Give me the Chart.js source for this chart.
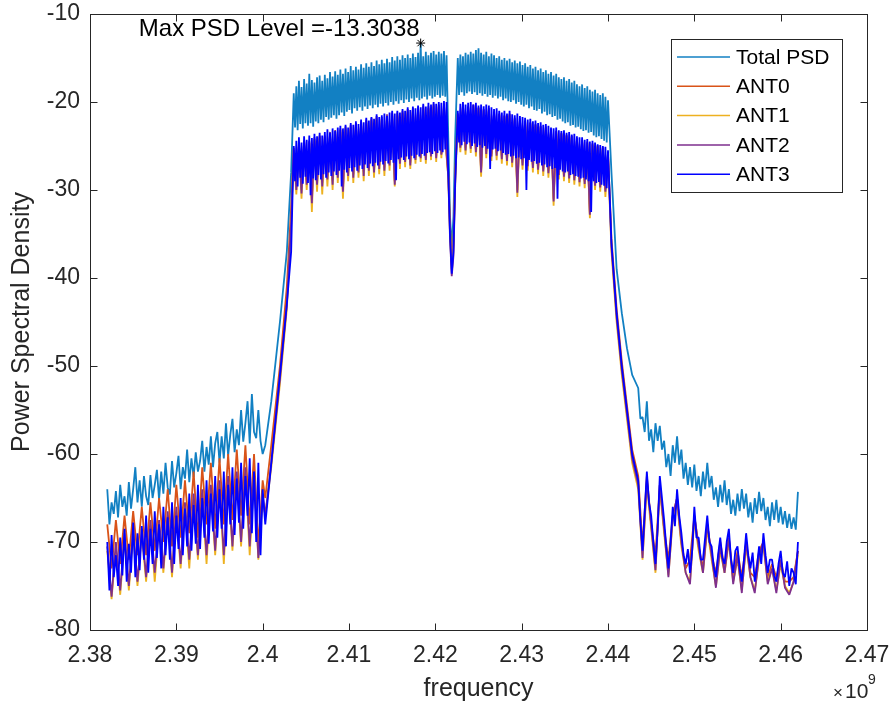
<!DOCTYPE html>
<html>
<head>
<meta charset="utf-8">
<title>Power Spectral Density</title>
<script src="https://cdn.jsdelivr.net/npm/chart.js@4.4.1/dist/chart.umd.min.js"></script>
<style>
    html, body { margin: 0; padding: 0; background: #fff; }
    #psd { display: block; }
</style>
</head>
<body>
<canvas id="psd" width="892" height="708"></canvas>
<script>
(function () {
    "use strict";

    // ---- frequency grids, MHz ----
    // lower skirt, fine grid (Total PSD, ANT3)
    var freqSkirtL = [
        2382, 2382.25, 2382.5, 2382.75, 2383, 2383.25, 2383.5, 2383.75, 2384, 2384.25,
        2384.5, 2384.75, 2385, 2385.25, 2385.5, 2385.75, 2386, 2386.25, 2386.5, 2386.75,
        2387, 2387.25, 2387.5, 2387.75, 2388, 2388.25, 2388.5, 2388.75, 2389, 2389.25,
        2389.5, 2389.75, 2390, 2390.25, 2390.5, 2390.75, 2391, 2391.25, 2391.5, 2391.75,
        2392, 2392.25, 2392.5, 2392.75, 2393, 2393.25, 2393.5, 2393.75, 2394, 2394.25,
        2394.5, 2394.75, 2395, 2395.25, 2395.5, 2395.75, 2396, 2396.25, 2396.5, 2396.75,
        2397, 2397.25, 2397.5, 2397.75, 2398, 2398.25, 2398.5, 2398.75, 2399, 2399.25,
        2399.5, 2399.75, 2400
    ];
    // lower skirt, coarse grid (ANT0..ANT2)
    var freqSkirtLCoarse = [
        2382, 2382.5, 2383, 2383.5, 2384, 2384.5, 2385, 2385.5, 2386, 2386.5, 2387, 2387.5, 2388, 2388.5, 2389, 2389.5, 2390, 2390.5, 2391, 2391.5,
        2392, 2392.5, 2393, 2393.5, 2394, 2394.5, 2395, 2395.5, 2396, 2396.5, 2397, 2397.5, 2398, 2398.5, 2399, 2399.5, 2400
    ];
    var freqRise = [2400.3, 2401, 2402, 2402.8, 2403.3];
    // lower half of the band, fine grid
    var freqBandL = [
        2403.6, 2403.75, 2403.9, 2404.05, 2404.2, 2404.35, 2404.5, 2404.65, 2404.8, 2404.95,
        2405.1, 2405.25, 2405.4, 2405.55, 2405.7, 2405.85, 2406, 2406.15, 2406.3, 2406.45,
        2406.6, 2406.75, 2406.9, 2407.05, 2407.2, 2407.35, 2407.5, 2407.65, 2407.8, 2407.95,
        2408.1, 2408.25, 2408.4, 2408.55, 2408.7, 2408.85, 2409, 2409.15, 2409.3, 2409.45,
        2409.6, 2409.75, 2409.9, 2410.05, 2410.2, 2410.35, 2410.5, 2410.65, 2410.8, 2410.95,
        2411.1, 2411.25, 2411.4, 2411.55, 2411.7, 2411.85, 2412, 2412.15, 2412.3, 2412.45,
        2412.6, 2412.75, 2412.9, 2413.05, 2413.2, 2413.35, 2413.5, 2413.65, 2413.8, 2413.95,
        2414.1, 2414.25, 2414.4, 2414.55, 2414.7, 2414.85, 2415, 2415.15, 2415.3, 2415.45,
        2415.6, 2415.75, 2415.9, 2416.05, 2416.2, 2416.35, 2416.5, 2416.65, 2416.8, 2416.95,
        2417.1, 2417.25, 2417.4, 2417.55, 2417.7, 2417.85, 2418, 2418.15, 2418.3, 2418.45,
        2418.6, 2418.75, 2418.9, 2419.05, 2419.2, 2419.35, 2419.5, 2419.65, 2419.8, 2419.95,
        2420.1, 2420.25, 2420.4, 2420.55, 2420.7, 2420.85, 2421, 2421.15, 2421.3
    ];
    var freqBandLCoarse = [
        2403.6, 2403.9, 2404.2, 2404.5, 2404.8, 2405.1, 2405.4, 2405.7, 2406, 2406.3, 2406.6, 2406.9, 2407.2, 2407.5, 2407.8, 2408.1, 2408.4, 2408.7, 2409, 2409.3, 2409.6, 2409.9, 2410.2, 2410.5, 2410.8, 2411.1, 2411.4, 2411.7, 2412, 2412.3,
        2412.6, 2412.9, 2413.2, 2413.5, 2413.8, 2414.1, 2414.4, 2414.7, 2415, 2415.3, 2415.6, 2415.9, 2416.2, 2416.5, 2416.8, 2417.1, 2417.4, 2417.7, 2418, 2418.3, 2418.6, 2418.9, 2419.2, 2419.5, 2419.8, 2420.1, 2420.4, 2420.7, 2421, 2421.3
    ];
    // DC notch
    var freqNotch = [2421.5, 2421.7, 2421.9, 2422.1, 2422.3];
    // upper half of the band
    var freqBandR = [
        2422.6, 2422.75, 2422.9, 2423.05, 2423.2, 2423.35, 2423.5, 2423.65, 2423.8, 2423.95,
        2424.1, 2424.25, 2424.4, 2424.55, 2424.7, 2424.85, 2425, 2425.15, 2425.3, 2425.45,
        2425.6, 2425.75, 2425.9, 2426.05, 2426.2, 2426.35, 2426.5, 2426.65, 2426.8, 2426.95,
        2427.1, 2427.25, 2427.4, 2427.55, 2427.7, 2427.85, 2428, 2428.15, 2428.3, 2428.45,
        2428.6, 2428.75, 2428.9, 2429.05, 2429.2, 2429.35, 2429.5, 2429.65, 2429.8, 2429.95,
        2430.1, 2430.25, 2430.4, 2430.55, 2430.7, 2430.85, 2431, 2431.15, 2431.3, 2431.45,
        2431.6, 2431.75, 2431.9, 2432.05, 2432.2, 2432.35, 2432.5, 2432.65, 2432.8, 2432.95,
        2433.1, 2433.25, 2433.4, 2433.55, 2433.7, 2433.85, 2434, 2434.15, 2434.3, 2434.45,
        2434.6, 2434.75, 2434.9, 2435.05, 2435.2, 2435.35, 2435.5, 2435.65, 2435.8, 2435.95,
        2436.1, 2436.25, 2436.4, 2436.55, 2436.7, 2436.85, 2437, 2437.15, 2437.3, 2437.45,
        2437.6, 2437.75, 2437.9, 2438.05, 2438.2, 2438.35, 2438.5, 2438.65, 2438.8, 2438.95,
        2439.1, 2439.25, 2439.4, 2439.55, 2439.7, 2439.85, 2440
    ];
    var freqBandRCoarse = [
        2422.6, 2422.9, 2423.2, 2423.5, 2423.8, 2424.1, 2424.4, 2424.7, 2425, 2425.3, 2425.6, 2425.9, 2426.2, 2426.5, 2426.8, 2427.1, 2427.4, 2427.7, 2428, 2428.3, 2428.6, 2428.9, 2429.2, 2429.5, 2429.8, 2430.1, 2430.4, 2430.7, 2431, 2431.3,
        2431.6, 2431.9, 2432.2, 2432.5, 2432.8, 2433.1, 2433.4, 2433.7, 2434, 2434.3, 2434.6, 2434.9, 2435.2, 2435.5, 2435.8, 2436.1, 2436.4, 2436.7, 2437, 2437.3, 2437.6, 2437.9, 2438.2, 2438.5, 2438.8, 2439.1, 2439.4, 2439.7, 2440
    ];
    var freqFall = [2440.4, 2441, 2441.6, 2442.2, 2442.8];
    // upper skirt
    var freqSkirtR = [
        2443.5, 2443.75, 2444, 2444.25, 2444.5, 2444.75, 2445, 2445.25, 2445.5, 2445.75,
        2446, 2446.25, 2446.5, 2446.75, 2447, 2447.25, 2447.5, 2447.75, 2448, 2448.25,
        2448.5, 2448.75, 2449, 2449.25, 2449.5, 2449.75, 2450, 2450.25, 2450.5, 2450.75,
        2451, 2451.25, 2451.5, 2451.75, 2452, 2452.25, 2452.5, 2452.75, 2453, 2453.25,
        2453.5, 2453.75, 2454, 2454.25, 2454.5, 2454.75, 2455, 2455.25, 2455.5, 2455.75,
        2456, 2456.25, 2456.5, 2456.75, 2457, 2457.25, 2457.5, 2457.75, 2458, 2458.25,
        2458.5, 2458.75, 2459, 2459.25, 2459.5, 2459.75, 2460, 2460.25, 2460.5, 2460.75,
        2461, 2461.25, 2461.5, 2461.75, 2462
    ];
    var freqSkirtRCoarse = [
        2443.5, 2444, 2444.5, 2445, 2445.5, 2446, 2446.5, 2447, 2447.5, 2448, 2448.5, 2449, 2449.5, 2450, 2450.5, 2451, 2451.5, 2452, 2452.5,
        2453, 2453.5, 2454, 2454.5, 2455, 2455.5, 2456, 2456.5, 2457, 2457.5, 2458, 2458.5, 2459, 2459.5, 2460, 2460.5, 2461, 2461.5, 2462
    ];

    // ---- PSD values, dB ----
    // Total PSD (fine grid): skirtL | rise | bandL | notch | bandR | fall | skirtR
    var totalPsd = [
        -64.0, -68.0, -65.5, -66.8, -64.2, -67.2, -63.5, -66.0, -64.8, -67.0,
        -63.2, -66.2, -64.0, -61.5, -65.5, -63.0, -66.0, -62.5, -64.8, -65.8,
        -62.4, -65.0, -63.5, -61.8, -65.2, -62.0, -64.5, -61.0, -63.8, -64.6,
        -60.8, -63.8, -62.2, -60.2, -64.0, -61.5, -62.8, -59.5, -63.2, -60.5,
        -62.6, -59.8, -62.0, -60.8, -58.5, -62.0, -59.2, -61.2, -58.0, -61.5,
        -58.8, -57.5, -61.0, -58.0, -60.5, -56.5, -60.2, -57.8, -56.0, -59.8,
        -57.2, -59.0, -55.0, -58.6, -56.5, -54.0, -58.8, -53.2, -57.5, -58.2,
        -55.0, -58.5, -60.0,
        -59.0, -54.0, -45.0, -37.0, -28.0,
        -19.0, -22.9, -18.2, -23.2, -17.6, -22.5, -18.3, -23.0, -17.4, -22.4,
        -17.9, -22.7, -16.8, -22.4, -17.5, -22.8, -17.8, -22.2, -17.2, -22.4,
        -17.0, -22.0, -17.6, -22.3, -16.9, -21.7, -17.3, -22.0, -16.6, -21.8,
        -17.1, -21.5, -16.5, -21.9, -16.9, -21.5, -16.3, -21.2, -16.8, -21.6,
        -16.2, -21.1, -16.6, -20.9, -15.9, -21.3, -16.4, -20.7, -16.0, -21.0,
        -16.3, -20.6, -15.7, -21.0, -16.1, -20.5, -15.6, -20.8, -16.0, -20.4,
        -15.5, -20.7, -15.9, -20.3, -15.3, -20.6, -15.7, -20.2, -15.2, -20.5,
        -15.6, -20.1, -15.1, -20.4, -15.5, -20.0, -14.9, -20.3, -15.3, -19.9,
        -14.8, -20.2, -15.2, -19.8, -14.7, -20.1, -15.0, -19.7, -14.6, -20.0,
        -15.0, -19.6, -14.5, -19.9, -14.9, -19.5, -14.4, -19.8, -13.3, -19.6,
        -14.8, -19.4, -14.3, -19.7, -14.7, -19.3, -14.4, -19.6, -14.2, -19.4,
        -14.6, -19.2, -14.3, -19.5, -14.5, -19.3, -14.2, -19.4, -14.7,
        -24.0, -33.0, -36.5, -33.0, -24.0,
        -15.0, -19.2, -14.6, -18.9, -14.8, -19.3, -14.4, -19.0, -14.6, -18.8,
        -14.3, -19.1, -14.5, -18.9, -14.1, -19.2, -13.9, -19.0, -14.4, -19.3,
        -14.6, -19.1, -14.3, -19.4, -14.8, -19.2, -14.5, -19.5, -14.7, -19.3,
        -15.0, -19.6, -14.8, -19.4, -15.2, -19.8, -15.0, -19.6, -15.3, -19.9,
        -15.1, -20.0, -15.5, -19.8, -15.3, -20.2, -15.6, -20.0, -15.4, -20.3,
        -15.8, -20.5, -15.6, -20.3, -16.0, -20.7, -15.8, -20.5, -16.2, -20.9,
        -16.0, -21.0, -16.4, -20.8, -16.2, -21.3, -16.6, -21.1, -16.4, -21.5,
        -16.8, -21.4, -16.6, -21.7, -17.0, -21.6, -16.8, -22.0, -17.2, -21.9,
        -17.4, -22.2, -17.2, -22.4, -17.6, -22.3, -17.4, -22.7, -17.8, -22.6,
        -17.6, -22.9, -18.0, -22.8, -18.2, -23.1, -18.0, -23.3, -18.4, -23.2,
        -18.2, -23.5, -18.6, -23.4, -18.8, -23.8, -18.6, -24.0, -19.0, -23.9,
        -19.2, -24.2, -19.0, -24.4, -19.4, -24.6, -19.8,
        -28.0, -39.0, -44.0, -48.0, -51.0,
        -52.5, -56.0, -55.8, -57.5, -54.0, -58.5, -57.2, -59.8, -56.5, -58.5,
        -56.8, -59.5, -58.5, -61.5, -60.0, -62.5, -59.0, -61.0, -58.0, -61.2,
        -59.5, -62.8, -61.0, -63.5, -61.5, -63.8, -61.2, -64.2, -62.5, -64.8,
        -62.0, -64.0, -61.0, -63.8, -62.5, -65.2, -63.8, -66.0, -63.5, -65.5,
        -63.0, -65.8, -64.0, -66.8, -65.2, -67.0, -64.5, -66.5, -64.0, -66.2,
        -64.5, -67.2, -65.5, -67.8, -65.0, -66.8, -64.3, -66.5, -65.0, -67.5,
        -66.0, -68.2, -65.5, -67.5, -65.2, -67.8, -66.0, -68.0, -66.5, -68.4,
        -66.8, -68.5, -67.2, -68.6, -64.3
    ];

    // ANT0..ANT2 (coarse grid): skirtL | rise | bandL | notch | bandR | fall | skirtR
    var ant0 = [
        -68.0, -73.0, -67.5, -72.5, -67.0, -72.0, -66.5, -71.5, -66.0, -71.5, -65.5, -71.0, -65.0, -70.0, -64.0, -70.5, -63.5, -69.5, -63.0, -69.0, -62.0, -69.5, -61.5, -68.0, -61.0, -68.5, -60.5, -68.0, -60.0, -67.5, -59.5, -67.0, -59.0, -68.0, -60.0, -70.5, -63.0,
        -65.0, -59.0, -50.0, -41.0, -32.0,
        -25.4, -29.4, -24.9, -29.8, -24.4, -28.9, -24.6, -30.8, -24.2, -28.9, -23.9, -29.2, -24.0, -28.4, -23.6, -28.9, -23.4, -28.2, -23.2, -29.8, -23.0, -27.9, -22.8, -28.2, -22.6, -27.6, -22.4, -27.9, -22.2, -27.4, -22.0, -27.6, -21.8, -27.2, -21.9, -27.4, -21.6, -26.9, -21.4, -29.0, -21.4, -26.8, -21.2, -26.6, -21.0, -26.9, -20.9, -26.4, -20.8, -26.2, -20.6, -26.4, -20.7, -26.0, -20.4, -26.2, -20.5, -25.9, -20.4, -25.8,
        -28.0, -34.0, -38.5, -36.0, -28.0,
        -21.4, -24.9, -20.4, -25.2, -20.6, -25.0, -20.4, -25.4, -20.7, -27.8, -20.9, -25.6, -20.8, -25.9, -21.2, -25.8, -21.4, -26.2, -21.6, -26.4, -21.4, -26.6, -21.9, -30.0, -22.0, -26.9, -22.2, -27.0, -22.4, -27.2, -22.6, -27.4, -22.8, -27.6, -22.9, -27.8, -23.2, -31.0, -23.4, -28.0, -23.6, -28.2, -23.8, -28.4, -23.9, -28.6, -24.2, -28.8, -24.4, -29.0, -24.6, -32.8, -24.8, -29.2, -25.0, -29.4, -25.2, -29.9, -25.9,
        -35.5, -43.5, -49.5, -54.5, -59.5,
        -62.5, -70.5, -62.5, -68.0, -71.5, -63.5, -68.5, -72.0, -67.0, -65.0, -70.0, -73.0, -72.0, -67.0, -70.5, -73.0, -68.0, -71.5, -73.5, -70.0, -73.0, -69.5, -74.0, -71.0, -74.0, -70.0, -73.5, -74.0, -71.0, -70.0, -74.0, -72.5, -74.0, -72.0, -74.5, -74.5, -74.0, -71.0
    ];

    var ant1 = [
        -71.0, -76.5, -70.5, -76.0, -69.5, -75.5, -69.0, -75.0, -69.0, -74.5, -68.0, -74.5, -68.0, -73.5, -67.0, -74.0, -66.5, -73.0, -66.0, -73.0, -65.0, -72.0, -64.5, -72.5, -64.0, -71.5, -63.5, -72.5, -63.0, -71.0, -62.5, -70.5, -62.0, -71.5, -62.5, -72.0, -65.0,
        -67.0, -61.5, -52.0, -43.5, -34.0,
        -25.5, -30.5, -25.0, -31.0, -24.8, -30.0, -24.6, -32.5, -24.4, -30.2, -24.0, -30.5, -24.2, -29.6, -23.8, -30.0, -23.6, -29.2, -23.4, -31.0, -23.2, -29.0, -23.0, -29.2, -22.8, -28.6, -22.6, -29.0, -22.4, -28.4, -22.2, -28.6, -22.0, -28.2, -22.0, -28.4, -21.8, -27.8, -21.6, -29.6, -21.6, -27.6, -21.4, -27.4, -21.2, -27.6, -21.0, -27.0, -21.0, -26.8, -20.8, -27.0, -20.8, -26.6, -20.6, -26.8, -20.6, -26.4, -20.5, -26.2,
        -28.5, -35.0, -39.0, -36.5, -29.0,
        -21.5, -25.7, -20.5, -26.0, -20.7, -25.8, -20.5, -26.2, -20.8, -28.5, -21.0, -26.4, -20.9, -26.7, -21.3, -26.6, -21.5, -27.0, -21.7, -27.2, -21.5, -27.4, -22.0, -30.8, -22.1, -27.7, -22.3, -27.8, -22.5, -28.0, -22.7, -28.2, -22.9, -28.4, -23.0, -28.6, -23.3, -31.8, -23.5, -28.8, -23.7, -29.0, -23.9, -29.2, -24.0, -29.4, -24.3, -29.6, -24.5, -29.8, -24.7, -33.2, -24.9, -30.0, -25.1, -30.2, -25.3, -30.8, -26.0,
        -37.0, -45.0, -51.0, -56.0, -61.0,
        -64.0, -72.0, -63.5, -68.5, -73.5, -64.0, -69.0, -73.8, -67.5, -65.5, -70.5, -73.5, -74.5, -67.5, -71.0, -73.5, -68.5, -72.0, -75.0, -71.0, -73.5, -70.0, -74.5, -72.0, -75.5, -70.5, -74.0, -75.5, -72.0, -70.5, -74.5, -73.0, -75.5, -72.5, -75.0, -75.8, -74.5, -71.5
    ];

    var ant2 = [
        -70.5, -76.2, -70.0, -75.5, -69.0, -75.0, -68.5, -74.5, -68.5, -74.0, -67.5, -73.5, -67.5, -73.0, -66.5, -73.5, -66.0, -72.5, -65.5, -72.0, -64.5, -71.5, -64.0, -71.5, -63.5, -71.0, -63.0, -71.5, -62.5, -70.5, -62.0, -70.0, -61.5, -70.5, -62.0, -71.8, -64.5,
        -67.0, -61.0, -51.5, -43.0, -33.5,
        -25.2, -30.0, -24.8, -30.4, -24.4, -29.4, -24.4, -31.5, -24.0, -29.4, -23.8, -29.6, -23.8, -28.8, -23.4, -29.4, -23.2, -28.6, -23.0, -30.2, -22.8, -28.4, -22.6, -28.6, -22.4, -28.0, -22.2, -28.4, -22.0, -27.8, -21.8, -28.0, -21.6, -27.6, -21.7, -27.8, -21.4, -27.2, -21.2, -29.4, -21.2, -27.0, -21.0, -26.8, -20.8, -27.2, -20.7, -26.6, -20.6, -26.4, -20.4, -26.6, -20.5, -26.2, -20.2, -26.4, -20.3, -26.0, -20.2, -25.9,
        -28.5, -35.5, -39.8, -37.5, -29.5,
        -21.3, -25.2, -20.3, -25.5, -20.5, -25.3, -20.3, -25.7, -20.6, -28.0, -20.8, -25.9, -20.7, -26.2, -21.1, -26.1, -21.3, -26.5, -21.5, -26.7, -21.3, -26.9, -21.8, -30.3, -21.9, -27.2, -22.1, -27.3, -22.3, -27.5, -22.5, -27.7, -22.7, -27.9, -22.8, -28.1, -23.1, -31.3, -23.3, -28.3, -23.5, -28.5, -23.7, -28.7, -23.8, -28.9, -24.1, -29.1, -24.3, -29.3, -24.5, -32.8, -24.7, -29.5, -24.9, -29.7, -25.1, -30.2, -25.8,
        -36.5, -44.5, -50.5, -55.5, -60.5,
        -63.5, -71.8, -63.0, -68.0, -73.2, -63.5, -68.5, -74.0, -67.0, -65.0, -70.0, -73.5, -74.8, -67.0, -70.5, -73.5, -68.0, -71.5, -75.2, -70.5, -73.5, -69.5, -74.8, -71.5, -75.8, -70.0, -74.0, -75.8, -71.5, -70.0, -74.8, -73.0, -75.8, -72.0, -75.2, -76.0, -74.5, -71.0
    ];

    // ANT3 (fine grid)
    var ant3 = [
        -70.0, -75.5, -69.2, -74.0, -71.5, -75.0, -69.5, -73.8, -68.5, -74.5,
        -70.2, -73.5, -67.8, -74.0, -69.0, -73.2, -68.2, -72.0, -67.0, -73.5,
        -68.5, -72.5, -66.5, -71.8, -68.0, -73.0, -66.0, -71.5, -67.2, -72.0,
        -65.5, -72.5, -67.0, -70.8, -65.0, -71.5, -66.2, -70.5, -64.5, -71.0,
        -65.8, -70.2, -63.5, -70.8, -65.0, -69.5, -63.0, -70.2, -64.5, -68.8,
        -62.5, -69.5, -64.0, -68.5, -62.0, -70.5, -63.5, -68.0, -61.5, -69.2,
        -62.8, -67.8, -61.0, -68.5, -62.5, -67.0, -60.5, -69.0, -62.0, -70.0,
        -61.0, -71.5, -64.0,
        -68.0, -61.0, -51.0, -43.0, -37.0,
        -25.0, -29.0, -24.4, -29.6, -24.0, -28.6, -24.6, -29.3, -23.9, -28.5,
        -24.3, -29.2, -23.8, -30.6, -24.1, -28.7, -23.6, -28.9, -23.9, -28.3,
        -23.5, -28.8, -23.8, -28.2, -23.4, -28.6, -23.1, -28.0, -23.5, -28.4,
        -23.0, -27.9, -23.3, -28.3, -22.9, -27.8, -22.7, -29.6, -23.0, -27.7,
        -22.6, -28.0, -22.9, -27.5, -22.4, -27.9, -22.6, -27.4, -22.2, -27.8,
        -22.5, -27.2, -22.0, -27.6, -22.3, -27.1, -21.8, -27.5, -22.1, -27.0,
        -21.7, -27.3, -21.9, -26.9, -21.4, -27.2, -21.7, -26.8, -21.5, -27.1,
        -21.3, -26.7, -21.6, -27.0, -21.2, -26.6, -21.0, -26.9, -21.3, -28.9,
        -21.0, -26.5, -21.2, -26.3, -20.8, -26.6, -21.0, -26.2, -20.6, -26.5,
        -20.9, -26.1, -20.5, -26.4, -20.7, -26.0, -20.4, -26.2, -20.6, -25.9,
        -20.2, -26.1, -20.5, -25.8, -20.1, -25.7, -20.3, -25.9, -20.0, -25.6,
        -20.2, -25.8, -20.0, -25.5, -20.1, -25.7, -19.9, -25.4, -20.0,
        -28.0, -35.0, -39.5, -37.0, -29.0,
        -21.0, -24.6, -20.2, -24.9, -20.0, -24.5, -20.3, -24.8, -20.1, -24.6,
        -20.0, -25.0, -20.3, -24.7, -20.1, -25.1, -20.4, -24.9, -20.3, -25.2,
        -20.5, -25.0, -20.3, -25.3, -20.4, -27.6, -20.6, -25.4, -20.8, -25.3,
        -20.7, -25.6, -21.0, -25.5, -21.2, -25.8, -21.0, -26.0, -21.3, -25.9,
        -21.0, -26.2, -21.4, -26.1, -21.5, -26.4, -21.3, -26.3, -21.6, -26.5,
        -21.7, -26.4, -21.8, -30.0, -22.0, -26.6, -21.9, -26.8, -22.2, -26.7,
        -22.1, -27.0, -22.4, -26.9, -22.3, -27.2, -22.6, -27.1, -22.5, -27.4,
        -22.7, -27.3, -22.9, -27.6, -23.0, -27.5, -22.9, -31.0, -23.2, -27.7,
        -23.3, -27.9, -23.2, -28.0, -23.5, -27.9, -23.4, -28.3, -23.7, -28.2,
        -23.6, -28.4, -23.9, -28.5, -24.0, -28.7, -24.0, -28.6, -24.3, -28.8,
        -24.2, -29.0, -24.5, -32.5, -24.4, -29.0, -24.6, -29.2, -24.8, -29.1,
        -24.9, -29.4, -25.0, -29.5, -25.1, -29.8, -25.5,
        -36.0, -44.0, -50.0, -55.0, -60.0,
        -63.0, -67.5, -71.0, -66.5, -62.0, -65.5, -67.0, -70.0, -72.5, -68.5,
        -62.5, -65.0, -67.5, -70.5, -73.0, -70.0, -66.0, -68.2, -64.0, -67.0,
        -69.0, -71.5, -72.5, -70.8, -73.5, -71.0, -66.0, -69.5, -69.5, -72.0,
        -72.0, -69.5, -67.0, -70.0, -70.5, -72.8, -74.0, -71.5, -69.5, -71.8,
        -72.5, -70.0, -68.5, -72.0, -73.5, -71.0, -70.5, -73.0, -74.5, -72.0,
        -69.0, -71.5, -73.0, -71.2, -74.5, -72.8, -70.5, -72.5, -69.0, -71.5,
        -73.5, -72.0, -72.0, -73.8, -74.5, -72.5, -71.0, -73.5, -74.0, -72.2,
        -75.0, -73.0, -73.5, -74.8, -70.0
    ];

    var seriesNames = ["Total PSD", "ANT0", "ANT1", "ANT2", "ANT3"];
    var seriesColors = ["#1280c3", "#D95319", "#EDB120", "#7E2F8E", "#0000FF"];
    var seriesValues = [totalPsd, ant0, ant1, ant2, ant3];

    var maxFreqMHz = 2418.3;
    var maxLevel = -13.3038;

    var xTicks = [2.38, 2.39, 2.40, 2.41, 2.42, 2.43, 2.44, 2.45, 2.46, 2.47];
    var yTicks = [-80, -70, -60, -50, -40, -30, -20, -10];

    var fineGrid = [].concat(freqSkirtL, freqRise, freqBandL, freqNotch, freqBandR, freqFall, freqSkirtR);
    var coarseGrid = [].concat(freqSkirtLCoarse, freqRise, freqBandLCoarse, freqNotch, freqBandRCoarse, freqFall, freqSkirtRCoarse);
    var seriesGrid = [fineGrid, coarseGrid, coarseGrid, coarseGrid, fineGrid];

    var ink = "#262626";
    var face = "'Liberation Sans', Arial, Helvetica, sans-serif";

    var datasets = seriesValues.map(function (vals, s) {
        var grid = seriesGrid[s];
        return {
            label: seriesNames[s],
            data: vals.map(function (v, i) { return {x: grid[i] / 1000, y: v}; }),
            borderColor: seriesColors[s],
            backgroundColor: seriesColors[s],
            borderWidth: 1.8,
            borderJoinStyle: "bevel",
            pointRadius: 0,
            tension: 0,
            fill: false,
            order: 5 - s
        };
    });

    // peak marker
    datasets.push({
        label: "max",
        isMarker: true,
        data: [{x: maxFreqMHz / 1000, y: maxLevel}],
        showLine: false,
        pointStyle: "star",
        pointRadius: 4.5,
        borderColor: "#000",
        backgroundColor: "#000",
        borderWidth: 1,
        order: 0
    });

    function line(c, x1, y1, x2, y2) {
        c.beginPath();
        c.moveTo(x1, y1);
        c.lineTo(x2, y2);
        c.stroke();
    }

    // MATLAB-style box, inward ticks, legend and annotation
    var framePlugin = {
        id: "frame",
        afterDraw: function (chart) {
            var c = chart.ctx, a = chart.chartArea;
            var xs = chart.scales.x, ys = chart.scales.y;
            var L = Math.round(a.left) + 0.5, R = Math.round(a.right) + 0.5;
            var T = Math.round(a.top) + 0.5, B = Math.round(a.bottom) + 0.5;
            c.save();
            c.strokeStyle = ink;
            c.lineWidth = 1;
            c.strokeRect(L, T, R - L, B - T);
            xTicks.forEach(function (v) {
                var px = Math.round(xs.getPixelForValue(v)) + 0.5;
                line(c, px, B, px, B - 7);
                line(c, px, T, px, T + 7);
            });
            yTicks.forEach(function (v) {
                var py = Math.round(ys.getPixelForValue(v)) + 0.5;
                line(c, L, py, L + 7, py);
                line(c, R, py, R - 7, py);
            });

            // max annotation
            var sx = xs.getPixelForValue(maxFreqMHz / 1000);
            var sy = ys.getPixelForValue(maxLevel);
            c.fillStyle = "#000";
            c.font = "24px " + face;
            c.textAlign = "right";
            c.textBaseline = "alphabetic";
            c.fillText("Max PSD Level =" + maxLevel, sx - 1, sy - 7);

            // exponent label
            c.fillStyle = ink;
            c.textAlign = "left";
            c.font = "17px " + face;
            c.fillText("\u00d7", 833, 698);
            c.font = "21px " + face;
            c.fillText("10", 845, 698);
            c.font = "14px " + face;
            c.fillText("9", 868, 684);

            // legend
            var bx = 671.5, by = 39.5, bw = 171, bh = 153;
            c.fillStyle = "#fff";
            c.fillRect(bx, by, bw, bh);
            c.strokeStyle = ink;
            c.lineWidth = 1;
            c.strokeRect(bx, by, bw, bh);
            c.font = "21px " + face;
            c.textBaseline = "middle";
            var row = 0;
            chart.data.datasets.forEach(function (ds) {
                if (ds.isMarker) return;
                var ry = 57 + row * 29.3;
                c.strokeStyle = ds.borderColor;
                c.lineWidth = 1.5;
                line(c, 677, ry, 730, ry);
                c.fillStyle = "#000";
                c.fillText(ds.label, 736, ry + 1);
                row++;
            });
            c.restore();
        }
    };

    var ctx = document.getElementById("psd").getContext("2d");
    var psdChart = new Chart(ctx, {
        type: "line",
        data: {datasets: datasets},
        options: {
            responsive: false,
            animation: false,
            events: [],
            layout: {padding: {top: 14, right: 25, left: 0, bottom: 0}},
            plugins: {
                legend: {display: false},
                tooltip: {enabled: false}
            },
            scales: {
                x: {
                    type: "linear",
                    min: 2.38,
                    max: 2.47,
                    afterBuildTicks: function (s) {
                        s.ticks = xTicks.map(function (v) { return {value: v}; });
                    },
                    afterFit: function (s) {
                        s.height = 78;
                        s.paddingLeft = 0;
                        s.paddingRight = 0;
                    },
                    grid: {display: false, drawTicks: false},
                    border: {display: false},
                    ticks: {
                        color: ink,
                        padding: 12,
                        maxRotation: 0,
                        autoSkip: false,
                        font: {family: face, size: 23},
                        callback: function (v) { return String(+Number(v).toFixed(2)); }
                    },
                    title: {
                        display: true,
                        text: "frequency",
                        color: ink,
                        font: {family: face, size: 25},
                        padding: {top: 0, bottom: 4}
                    }
                },
                y: {
                    type: "linear",
                    min: -80,
                    max: -10,
                    afterBuildTicks: function (s) {
                        s.ticks = yTicks.map(function (v) { return {value: v}; });
                    },
                    afterFit: function (s) {
                        s.width = 90;
                        s.paddingTop = 0;
                        s.paddingBottom = 0;
                    },
                    grid: {display: false, drawTicks: false},
                    border: {display: false},
                    ticks: {
                        color: ink,
                        padding: 10,
                        font: {family: face, size: 23},
                        callback: function (v) { return String(v); }
                    },
                    title: {
                        display: true,
                        text: "Power Spectral Density",
                        color: ink,
                        font: {family: face, size: 25},
                        padding: {top: 7, bottom: 0}
                    }
                }
            }
        },
        plugins: [framePlugin]
    });
})();
</script>
</body>
</html>
